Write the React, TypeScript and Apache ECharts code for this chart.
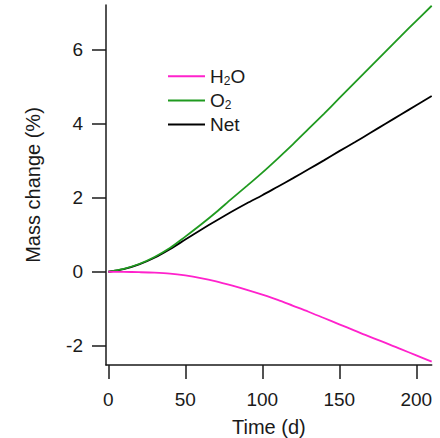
import React, { useEffect, useRef } from "react";
import * as echarts from "echarts";

const days = [0, 10, 20, 30, 40, 50, 60, 70, 80, 90, 100, 110, 120, 130, 140, 150, 160, 170, 180, 190, 200, 210];
const h2o = [0, -0.003, -0.012, -0.025, -0.05, -0.1, -0.17, -0.26, -0.37, -0.49, -0.62, -0.76, -0.92, -1.08, -1.25, -1.42, -1.59, -1.76, -1.92, -2.09, -2.26, -2.43];
const o2 = [0, 0.08, 0.21, 0.4, 0.64, 0.95, 1.27, 1.61, 1.97, 2.32, 2.68, 3.06, 3.45, 3.86, 4.27, 4.69, 5.11, 5.53, 5.95, 6.37, 6.78, 7.19];
const net = [0, 0.07, 0.2, 0.38, 0.61, 0.87, 1.13, 1.38, 1.62, 1.85, 2.07, 2.3, 2.53, 2.77, 3.01, 3.26, 3.5, 3.75, 4.0, 4.25, 4.5, 4.75];
const xTicks = [0, 50, 100, 150, 200];
const yTicks = [-2, 0, 2, 4, 6];
const seriesNames = ["H2O", "O2", "Net"];
const legendLabels: Record<string, string> = {
  H2O: "{m|H}{s|2}{m|O}",
  O2: "{m|O}{s|2}",
  Net: "{m|Net}",
};

const FONT = "'Liberation Sans', Arial, Helvetica, sans-serif";
const INK = "#1a1a1a";

export default function App() {
  const ref = useRef<HTMLDivElement>(null);
  useEffect(() => {
    if (!ref.current) return;
    const chart = echarts.init(ref.current, null, { renderer: "svg" });
    const pair = (arr: number[]) => days.map((d, i) => [d, arr[i]]);
    const colors = ["#ff22cc", "#1f9a1f", "#000000"];
    const values = [h2o, o2, net];
    chart.setOption({
      animation: false,
      textStyle: { fontFamily: FONT },
      grid: { left: 106, right: 8.3, top: 5, bottom: 73, containLabel: false, outerBoundsMode: "none" },
      legend: {
        show: true,
        orient: "vertical",
        left: 163,
        top: 61.7,
        icon: "rect",
        itemWidth: 37,
        itemHeight: 2,
        itemGap: 3.7,
        data: seriesNames,
        formatter: (name: string) => legendLabels[name],
        textStyle: {
          color: INK,
          fontFamily: FONT,
          padding: [0, 0, 0, 0],
          rich: {
            m: { fontSize: 19, lineHeight: 22, color: INK, fontFamily: FONT },
            s: { fontSize: 12, lineHeight: 12, verticalAlign: "bottom", color: INK, fontFamily: FONT },
          },
        },
      },
      xAxis: {
        type: "value",
        min: -1.5,
        max: 210,
        name: "Time (d)",
        nameLocation: "middle",
        nameGap: 52,
        nameTextStyle: { fontSize: 20, color: INK, fontFamily: FONT },
        splitLine: { show: false },
        axisLine: { show: true, onZero: false, lineStyle: { color: INK, width: 1.5 } },
        axisTick: { show: true, inside: false, length: 14, customValues: xTicks, lineStyle: { color: INK, width: 1.5 } },
        axisLabel: { show: true, customValues: xTicks, margin: 25, fontSize: 19, color: INK, fontFamily: FONT },
      },
      yAxis: {
        type: "value",
        min: -2.52,
        max: 7.21,
        name: "Mass change (%)",
        nameLocation: "middle",
        nameGap: 63,
        nameTextStyle: { fontSize: 20, color: INK, fontFamily: FONT },
        splitLine: { show: false },
        axisLine: { show: true, onZero: false, lineStyle: { color: INK, width: 1.5 } },
        axisTick: { show: true, inside: false, length: 14, customValues: yTicks, lineStyle: { color: INK, width: 1.5 } },
        axisLabel: { show: true, customValues: yTicks, margin: 23, fontSize: 19, color: INK, fontFamily: FONT },
      },
      series: seriesNames.map((name, i) => ({
        name,
        type: "line",
        data: pair(values[i]),
        smooth: 0.3,
        symbol: "none",
        showSymbol: false,
        color: colors[i],
        itemStyle: { color: colors[i] },
        lineStyle: { color: colors[i], width: 1.8 },
        z: 3 - i,
      })),
    });
    return () => chart.dispose();
  }, []);
  return <div ref={ref} style={{ position: "fixed", left: 0, top: 0, width: 440, height: 438, background: "#fff" }} />;
}
